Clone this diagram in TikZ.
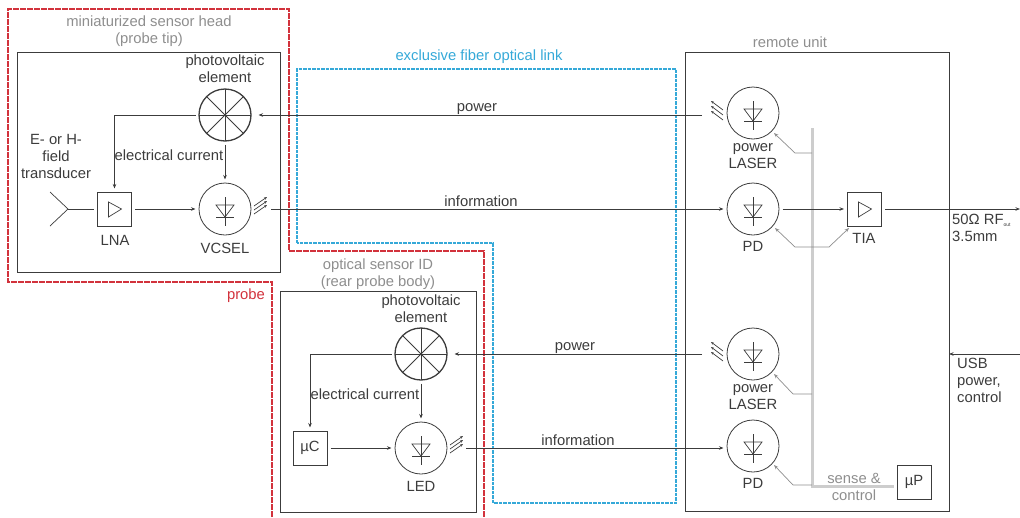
\documentclass[tikz,border=0pt]{standalone}
\usepackage{fontspec}
\setmainfont{Liberation Sans}
\usetikzlibrary{positioning, arrows.meta, calc}
\definecolor{inkdark}{HTML}{3C3C3C}
\definecolor{probered}{HTML}{D2323C}
\definecolor{linkblue}{HTML}{35A9D8}
\definecolor{labelgray}{HTML}{8E8E8E}
\definecolor{busgray}{HTML}{CDCDCD}
\newcommand{\diode}[1]{%
	\draw[inkdark, line width=0.7pt] ($(#1)+(0,-12)$) -- ($(#1)+(0,17)$);
	\draw[inkdark, line width=0.7pt] ($(#1)+(-9,-4)$) -- ($(#1)+(9,-4)$) -- ($(#1)+(0,8)$) -- cycle;
	\draw[inkdark, line width=0.7pt] ($(#1)+(-9,8)$) -- ($(#1)+(9,8)$);
}
\newcommand{\amptri}[1]{%
	\draw[inkdark, line width=0.7pt] ($(#1)+(-6,-7)$) -- ($(#1)+(7,0)$) -- ($(#1)+(-6,8)$) -- cycle;
}
\newcommand{\pvcell}[1]{%
	\foreach \ang in {0,45,...,315} {\draw[inkdark, line width=1pt] (#1.center) -- ($(#1.center)+(\ang:26)$);}
}
\begin{document}
\begin{tikzpicture}[x=1pt, y=-1pt, font=\fontsize{14.8}{17}\selectfont, text=inkdark,
			sig/.style={draw=inkdark, line width=0.7pt, -{Stealth[length=4.5pt, width=3.5pt]}},
			ctl/.style={draw=labelgray, line width=0.7pt, -{Stealth[length=4.5pt, width=3.5pt]}},
			beam/.style={draw=inkdark, line width=0.7pt, -{Stealth[length=3pt, width=2.5pt]}},
			dev/.style={draw=inkdark, circle, line width=0.8pt, minimum size=52pt, inner sep=0pt, outer sep=3.5pt},
			pv/.style={dev, line width=1.3pt},
			blk/.style={draw=inkdark, line width=0.8pt, minimum size=34pt, inner sep=0pt, outer sep=3.5pt},
			unit/.style={draw=inkdark, line width=1pt},
			txt/.style={align=center, inner sep=0pt},
			gtxt/.style={txt, text=labelgray}]
	\useasboundingbox (0,0) rectangle (1020,517);
	% outlines
	\draw[probered, line width=1.2pt, dash pattern=on 6pt off 1pt] (272,517) -- (272,282) -- (8,282) -- (8,9) -- (289,9) -- (289,251) -- (484,251) -- (484,517);
	\draw[linkblue, line width=1.1pt, dash pattern=on 3.5pt off 1pt] (297,243) -- (297,69) -- (676,69) -- (676,503) -- (493,503) -- (493,243) -- cycle;
	\draw[unit] (17,52) rectangle (280,272);
	\draw[unit] (280,291) rectangle (476,512);
	\draw[unit] (685,52) rectangle (949,511);
	% head
	\node[pv] (pvA) at (225,115) {};
	\node[dev] (vcsel) at (225,209) {};
	\node[blk] (lna) at (114.5,209) {};
	\coordinate (ant) at (68,209);
	\pvcell{pvA}
	\diode{vcsel}
	\amptri{lna}
	\draw[inkdark, line width=0.7pt] (50,192) -- (ant) -- (50,226);
	% sensor id
	\node[pv] (pvB) at (421,354) {};
	\node[dev] (led) at (421,448) {};
	\node[blk] (uC) at (310,448) {µC};
	\pvcell{pvB}
	\diode{led}
	% remote unit
	\node[dev] (lasA) at (753,113) {};
	\node[dev] (pdA) at (753,209) {};
	\node[dev] (lasB) at (753,354) {};
	\node[dev] (pdB) at (753,446) {};
	\node[blk] (tia) at (864.5,209) {};
	\node[blk] (uP) at (914,482) {µP};
	\diode{lasA}
	\diode{pdA}
	\diode{lasB}
	\diode{pdB}
	\amptri{tia}
	% bus
	\coordinate (busTop) at (812,128);
	\coordinate (busEnd) at (812,486);
	\draw[busgray, line width=3pt] (busTop) -- (busEnd) -- (busEnd -| uP.west);
	\draw[ctl] (812,153) -- (795,153) -- (774,133);
	\draw[ctl] (812,247) -- (795,247) -- (775,228);
	\draw[ctl] (812,247) -- (829,247) -- (849,228);
	\draw[ctl] (812,394) -- (793,394) -- (774,374);
	\draw[ctl] (812,485) -- (793,485) -- (774,465);
	% beams
	\foreach \bx/\by in {254/206, 254/210, 254/214, 450/445, 450/449, 450/453} {
		\draw[beam] (\bx,\by) -- ++(13,-9);
	}
	\foreach \by in {110, 115, 120, 351, 356, 361} {
		\draw[beam] (723,\by) -- ++(-12,-9);
	}
	% links
	\coordinate (lasAport) at (702,115);
	\coordinate (lasBport) at (702,354);
	\coordinate (vcselPort) at (271,209);
	\coordinate (ledPort) at (466,448);
	\coordinate (rfEnd) at (1020,209);
	\coordinate (usbEnd) at (1020,354);
	\coordinate (usbIn) at (949,354);
	\draw[sig, shorten >=4pt] (lasAport) -- (pvA);
	\draw[sig, shorten >=4pt] (lasBport) -- (pvB);
	\draw[sig] (vcselPort) -- (pdA);
	\draw[sig] (ledPort) -- (ledPort -| pdB.west);
	\draw[sig] (pvA) -| (lna);
	\draw[sig] (pvA) -- (vcsel);
	\draw[inkdark, line width=0.7pt] (ant) -- (lna.west);
	\draw[sig] (lna) -- (vcsel);
	\draw[sig] (pvB) -| (uC);
	\draw[sig] (pvB) -- (led);
	\draw[sig] (uC) -- (led);
	\draw[sig] (pdA) -- (tia);
	\draw[sig] (tia) -- (rfEnd);
	\draw[sig] (usbEnd) -- (usbIn);
	% labels
	\node[gtxt] (headLabel) at (149,31) {miniaturized sensor head\\(probe tip)};
	\node[txt] (pvAlabel) at (225,69) {photovoltaic\\element};
	\node[txt] (tranLabel) at (56,156) {E- or H-\\field\\transducer};
	\node[txt] (currA) at (169,155) {electrical current};
	\node[txt] (lnaLabel) at (115,240) {LNA};
	\node[txt] (vcselLabel) at (225,248) {VCSEL};
	\node[gtxt] (idLabel) at (378,274) {optical sensor ID\\(rear probe body)};
	\node[txt] (pvBlabel) at (421,309) {photovoltaic\\element};
	\node[txt] (currB) at (365,394) {electrical current};
	\node[txt] (ledLabel) at (421,486) {LED};
	\node[text=probered, txt] (probeLabel) at (246,296) {probe};
	\node[text=linkblue, txt] (linkLabel) at (479,57) {exclusive fiber optical link};
	\node[gtxt] (remoteLabel) at (790,42) {remote unit};
	\node[txt] (powA) at (477,109) {power};
	\node[txt] (infoA) at (481,201) {information};
	\node[txt] (powB) at (575,348) {power};
	\node[txt] (infoB) at (578,440) {information};
	\node[txt] (lasAlabel) at (753,156) {power\\LASER};
	\node[txt] (pdAlabel) at (753,246) {PD};
	\node[txt] (tiaLabel) at (864,238) {TIA};
	\node[txt, anchor=west, align=left] (rfLabel) at (952,228) {50Ω RF\textsubscript{\fontsize{5}{5}\selectfont out}\\3.5mm};
	\node[txt] (lasBlabel) at (753,397) {power\\LASER};
	\node[txt] (pdBlabel) at (753,483) {PD};
	\node[gtxt] (senseLabel) at (854,487) {sense \&\\control};
	\node[txt, anchor=west, align=left] (usbLabel) at (957,380) {USB\\power,\\control};
\end{tikzpicture}
\end{document}
